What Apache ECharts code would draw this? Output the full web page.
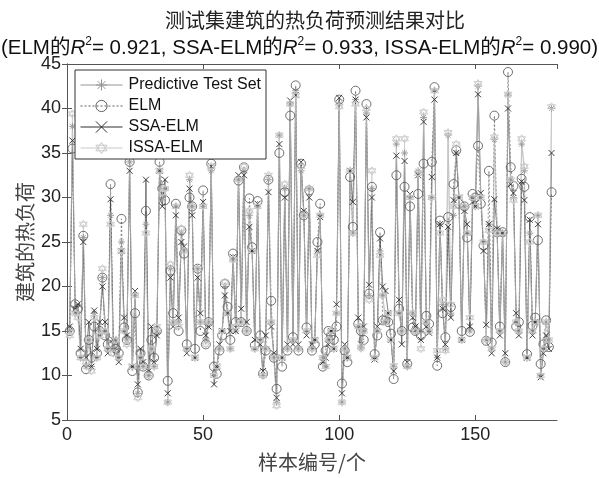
<!DOCTYPE html>
<html>
<head>
<meta charset="utf-8">
<title>热负荷预测结果对比</title>
<script src="https://cdn.jsdelivr.net/npm/echarts@6/dist/echarts.min.js"></script>
<style>
  html, body { margin: 0; padding: 0; background: #fff; }
  #main { width: 599px; height: 478px; }
</style>
</head>
<body>
<div id="main"></div>
<script type="text/javascript">
// 测试集真实值 (Predictive Test Set)
var testSet = [
  15, 38, 17, 17, 12, 25.5, 11, 14, 11, 17,
  12, 15, 21, 15, 13, 28, 13, 14, 12, 25,
  15, 14, 34, 11, 19, 8, 12, 11, 27, 10,
  13, 11, 15, 33, 30, 31, 7, 22, 16, 29,
  16, 26, 24, 13, 32, 29, 12, 22, 16, 29,
  14, 16, 33, 10, 11, 13, 15, 20, 17, 13,
  23, 15, 32, 16, 33, 15, 28, 24, 13, 29,
  14, 10, 13, 32, 16, 12, 7, 37, 12, 31,
  13, 40.5, 14, 42, 13, 33, 28, 15, 31, 13,
  14, 24, 28, 12, 11, 14, 15, 13, 17, 40.5,
  7, 13, 12, 33, 26, 41, 15.5, 13, 15, 39.5,
  19, 31, 12, 15, 24, 19, 16, 17, 14, 11,
  36, 17, 15, 35, 11, 30, 17, 15, 33, 15,
  39, 16, 15, 30, 42, 12, 27, 18, 13, 37,
  17, 28, 35, 30, 14, 29, 26, 15, 30, 29,
  42.5, 30, 25, 14, 27, 13, 36.5, 26, 15, 26,
  11.5, 41.5, 32, 30, 16, 15, 36, 33, 12, 26,
  15, 16, 28, 10, 13, 16, 14, 40
];
var elm = [
  15, 35.5, 18, 17.5, 12.5, 25.7, 10.7, 14, 12, 15.5,
  12.5, 15, 21, 14.5, 13.5, 31.5, 13.5, 13, 12.5, 27.6,
  15.4, 14, 34, 10.5, 17, 8.1, 12.5, 11, 28.5, 10,
  14, 12, 15, 34, 31, 29.7, 9.4, 21.8, 17, 29.3,
  15, 26.3, 23.7, 13.5, 30, 29, 13, 22, 15, 30.8,
  13.5, 16, 33.8, 11, 10.2, 12.8, 14.5, 20.3, 17.7, 14,
  23.7, 16, 31.9, 16, 33.4, 15, 29.9, 24.4, 13.4, 29.6,
  14.5, 10.2, 12.8, 32, 18.4, 12, 8.5, 35, 11, 30.6,
  12.8, 39.2, 14.3, 42.6, 12.8, 33.8, 28, 15.4, 30.8, 12.8,
  13.5, 25, 29.3, 11, 12.8, 15, 14.5, 14, 15.5, 41,
  9.1, 12.8, 11.5, 32.3, 26.7, 42, 15.8, 15, 14, 40.5,
  19.2, 31.2, 12.4, 14.5, 26.1, 16.2, 16.2, 16, 14.7, 9.6,
  32.5, 17.5, 15, 31.2, 11.3, 29, 15.4, 15, 30.4, 14.5,
  33.8, 16.7, 15.8, 34, 42.4, 11.1, 27.4, 17, 14.3, 27.8,
  17.7, 31.5, 35.3, 29.3, 15, 29, 25.5, 14.9, 30.4, 30,
  35.8, 29.3, 24.6, 13.9, 33, 13.7, 39.2, 26.1, 15.5, 26.1,
  11.5, 44.1, 33.4, 31.3, 15.5, 16, 32.1, 31.2, 12.4, 27.8,
  15.6, 16.5, 25.2, 11.3, 13.5, 16.2, 13.2, 30.6
];
var ssaElm = [
  15.5, 36.4, 17.5, 18, 13, 25, 12, 16, 11, 17.3,
  13, 16, 20, 16, 12.5, 29.8, 14, 12.5, 11.5, 24,
  16.5, 14.5, 33, 11, 19.5, 9, 13, 11.5, 32, 10.5,
  15.5, 11.5, 14.5, 33, 29, 32, 8, 21, 15.5, 28,
  16.5, 25, 24.5, 12.5, 31, 28, 12, 21, 17, 29.5,
  14.5, 15.5, 33.5, 9, 11, 13.5, 15, 19, 17, 15,
  23.3, 15, 32.5, 17.5, 32.5, 16, 26.7, 24, 14, 29.3,
  13.5, 10.5, 14.5, 30.6, 15.5, 12.5, 7.5, 36, 12, 30,
  13.5, 40.9, 13.5, 41.5, 13.5, 34, 28.5, 14.5, 30, 13.5,
  14, 24, 27.8, 11.5, 12, 13.5, 15, 13, 18, 41.2,
  8, 13.5, 12, 33, 29.5, 41, 16.5, 13.5, 15.5, 39,
  20.2, 30, 11.8, 15.5, 25.4, 20, 19.5, 17, 14, 10.5,
  34.7, 18.5, 13.5, 34.1, 11.5, 30.4, 16.5, 15.5, 32.5, 14,
  38.5, 15.5, 14.8, 32.3, 41, 12, 27, 17.5, 13.5, 26.7,
  16.5, 29.7, 35, 30, 14, 28.5, 27, 15.5, 29.5, 29,
  41.6, 30.5, 24, 15.7, 27, 12.5, 29.8, 26.5, 14.5, 26,
  12.5, 40, 31.5, 30.5, 17, 14.5, 31.8, 29.7, 12, 27.5,
  14.5, 16, 27, 9.8, 12.5, 14.5, 13, 35
];
var issaElm = [
  14.5, 39.4, 17, 16.5, 12, 27, 11.5, 14, 10.5, 16.5,
  12, 14.5, 22, 15, 13, 27, 12.5, 14, 12, 24,
  15, 13.5, 35, 11, 19, 7.5, 12, 11, 26, 10,
  13, 11, 15.5, 33, 30.5, 31, 7, 22.5, 16, 29,
  15.5, 26.5, 24, 13, 32.5, 29, 12, 22, 16, 29,
  13.5, 16, 33.5, 10, 11, 13, 15, 20.5, 17, 13,
  23, 15.5, 32, 16, 33.5, 15, 28.5, 24, 13, 29,
  14, 10, 13, 32.5, 16, 12, 6.6, 37, 12, 31.5,
  13, 40.5, 14, 41.5, 13, 33.5, 28, 15, 31, 13,
  14, 23.5, 28, 12, 11, 14, 15, 13, 17, 40.2,
  7, 13, 12, 33, 26, 40.5, 15.5, 13.2, 15, 40,
  18.5, 33, 12, 15, 23.5, 19, 16, 17, 14, 11.1,
  36.6, 17, 15, 36.6, 11, 30, 17, 15, 32.7, 13,
  39.6, 16, 15, 30, 42, 12.8, 26, 18.5, 12.8, 37.3,
  18, 29, 36, 30, 14, 29, 26, 16.5, 30, 29,
  42.8, 30, 25, 14, 26.3, 13, 36.8, 26, 15, 26,
  11.5, 41.6, 32, 29.7, 16, 15, 36.6, 33.5, 12, 25,
  15, 16, 28, 10, 13, 16, 14, 40.2
];
var xTicks = [0, 50, 100, 150];
var yTicks = [5, 10, 15, 20, 25, 30, 35, 40, 45];

function toPoints(arr) {
  return arr.map(function (v, k) { return [k + 1, v]; });
}

var symAsterisk = 'path://M0,5L10,5M5,0L5,10M1.5,1.5L8.5,8.5M8.5,1.5L1.5,8.5';
var symCross = 'path://M0,0L10,10M10,0L0,10';
var symHexagram = 'path://M5,0L9.33,7.5L0.67,7.5ZM5,10L0.67,2.5L9.33,2.5Z';

var latin = '"Liberation Sans", "Noto Sans CJK SC", sans-serif';
var cjk = '"Noto Sans CJK SC", sans-serif';

var myChart = echarts.init(document.getElementById('main'), null, { renderer: 'canvas' });

function makeSeries(name, arr, color, width, type, symbol, size) {
  return {
    name: name,
    type: 'line',
    data: toPoints(arr),
    showAllSymbol: true,
    symbol: symbol,
    symbolSize: size,
    lineStyle: { color: color, width: width, type: type },
    itemStyle: { color: 'rgba(0,0,0,0)', borderColor: color, borderWidth: 0.9 },
    emphasis: { disabled: true },
    animation: false
  };
}

myChart.setOption({
  backgroundColor: '#fff',
  title: [{
    text: '测试集建筑的热负荷预测结果对比',
    left: 160,
    top: 5,
    textStyle: { fontFamily: cjk, fontSize: 20, fontWeight: 'normal', color: '#222' }
  }, {
    text: '{a|(ELM的}{i|R}{s|2}{a|= 0.921, SSA-ELM的}{i|R}{s|2}{a|= 0.933, ISSA-ELM的}{i|R}{s|2}{a|= 0.990)}',
    left: 'center',
    top: 31,
    textStyle: {
      fontWeight: 'normal',
      rich: {
        a: { fontFamily: latin, fontSize: 20.5, fontWeight: 'normal', color: '#111', lineHeight: 24 },
        i: { fontFamily: latin, fontSize: 20.5, fontWeight: 'normal', fontStyle: 'italic', color: '#111', lineHeight: 24 },
        s: { fontFamily: latin, fontSize: 12, fontWeight: 'normal', color: '#111', verticalAlign: 'top', lineHeight: 14 }
      }
    }
  }],
  // y 轴名称 (竖排)
  graphic: [{
    type: 'text',
    x: 25,
    y: 242,
    rotation: Math.PI / 2,
    style: {
      text: '建筑的热负荷',
      fontFamily: cjk,
      fontSize: 20,
      fill: '#444',
      align: 'center',
      verticalAlign: 'middle'
    }
  }],
  legend: {
    orient: 'vertical',
    left: 75,
    top: 70,
    backgroundColor: '#fff',
    borderColor: '#333',
    borderWidth: 1,
    padding: [7, 5, 3, 5],
    itemWidth: 42,
    itemHeight: 14,
    itemGap: 5,
    itemStyle: { borderWidth: 1 },
    textStyle: { fontFamily: latin, fontSize: 16, color: '#111', padding: [0, 0, 0, 1] },
    data: [
      { name: 'Predictive Test Set', lineStyle: { width: 1 } },
      { name: 'ELM', lineStyle: { width: 1, type: [2, 2] } },
      { name: 'SSA-ELM', lineStyle: { width: 1 } },
      { name: 'ISSA-ELM', lineStyle: { width: 1 } }
    ]
  },
  grid: { left: 67, right: 42, top: 64, bottom: 58 },
  xAxis: [{
    type: 'value',
    min: 0,
    max: 180,
    interval: 50,
    name: '样本编号/个',
    nameLocation: 'middle',
    nameGap: 32,
    nameTextStyle: { fontFamily: cjk, fontSize: 20, color: '#444' },
    axisLine: { lineStyle: { color: '#555', width: 1 } },
    axisTick: { inside: true, length: 5, lineStyle: { color: '#555' } },
    axisLabel: {
      fontFamily: latin, fontSize: 18, color: '#222', margin: 6,
      showMaxLabel: false,
      formatter: function (v) { return xTicks.indexOf(v) >= 0 ? String(v) : ''; }
    },
    splitLine: { show: false }
  }, {
    type: 'value',
    position: 'top',
    min: 0,
    max: 180,
    interval: 50,
    axisLine: { show: true, lineStyle: { color: '#555', width: 1 } },
    axisTick: { inside: true, length: 5, lineStyle: { color: '#555' } },
    axisLabel: { show: false },
    splitLine: { show: false }
  }],
  yAxis: [{
    type: 'value',
    min: 5,
    max: 45,
    interval: 5,
    axisLine: { show: true, lineStyle: { color: '#555', width: 1 } },
    axisTick: { show: true, inside: true, length: 5, lineStyle: { color: '#555' } },
    axisLabel: {
      fontFamily: latin, fontSize: 18, color: '#222', margin: 6,
      formatter: function (v) { return yTicks.indexOf(v) >= 0 ? String(v) : ''; }
    },
    splitLine: { show: false }
  }, {
    type: 'value',
    position: 'right',
    min: 5,
    max: 45,
    interval: 5,
    axisLine: { show: true, lineStyle: { color: '#555', width: 1 } },
    axisTick: { show: true, inside: true, length: 5, lineStyle: { color: '#555' } },
    axisLabel: { show: false },
    splitLine: { show: false }
  }],
  series: [
    makeSeries('Predictive Test Set', testSet, '#959595', 0.6, 'solid', symAsterisk, 7),
    makeSeries('ELM', elm, '#5f5f5f', 0.7, [2, 2], 'circle', 9),
    makeSeries('SSA-ELM', ssaElm, '#2e2e2e', 0.6, 'solid', symCross, 6),
    makeSeries('ISSA-ELM', issaElm, '#c8c8c8', 0.7, 'solid', symHexagram, 8)
  ]
});
</script>
</body>
</html>
